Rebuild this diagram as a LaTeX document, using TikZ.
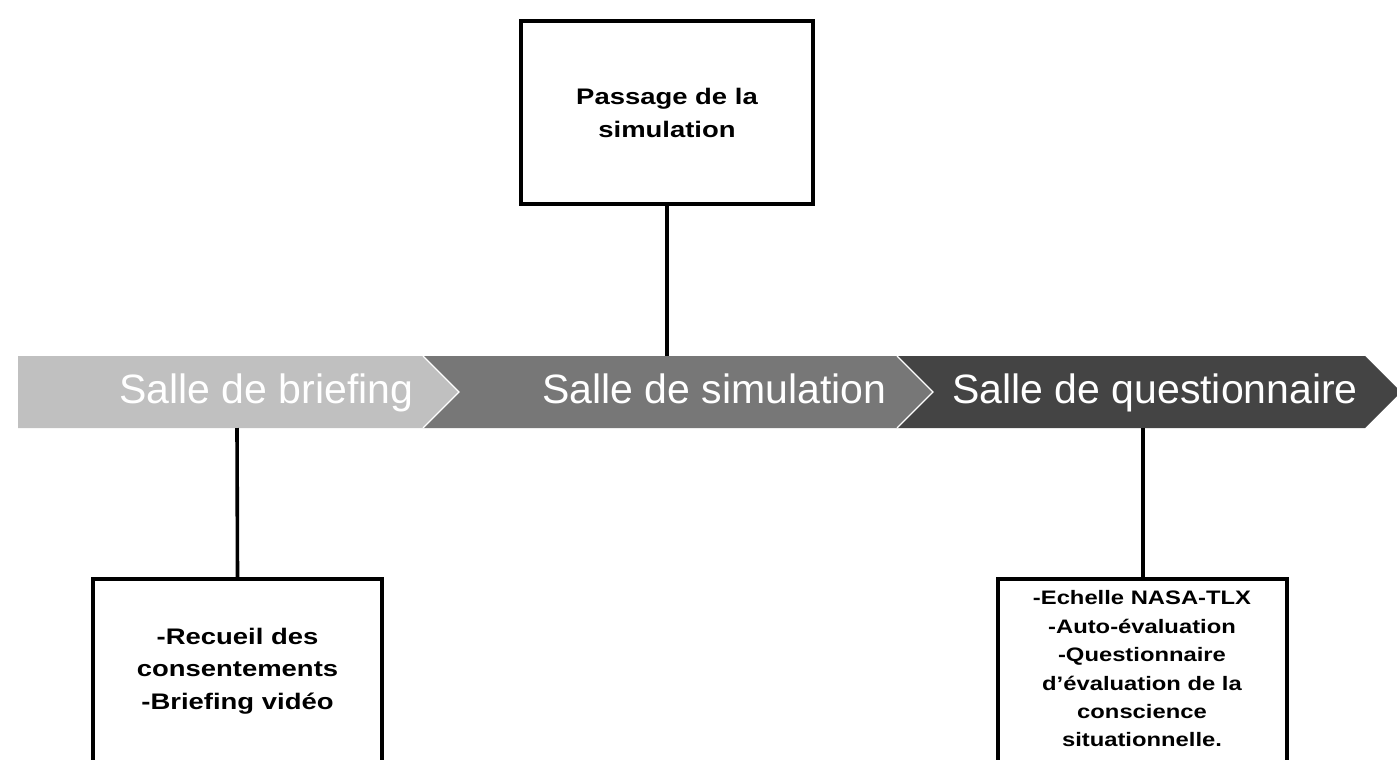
\documentclass[tikz,border=0pt]{standalone}
\usepackage{fontspec}
\setmainfont{Liberation Sans}
\newfontfamily\boxfont{Liberation Sans}[FakeStretch=1.22]
\definecolor{chA}{HTML}{C0C0C0}
\definecolor{chB}{HTML}{777777}
\definecolor{chC}{HTML}{444444}
\tikzset{
  box/.style={draw=black, line width=3.8pt, fill=white, inner sep=0pt},
  link/.style={draw=black, line width=3.6pt},
  bandtext/.style={text=white, font=\fontsize{41}{41}\selectfont, anchor=base, inner sep=0pt},
  boxtextA/.style={font=\boxfont\bfseries\fontsize{22.5}{32.5}\selectfont, align=center, inner sep=0pt},
  boxtextB/.style={font=\boxfont\bfseries\fontsize{19.5}{28.4}\selectfont, align=center, inner sep=0pt},
  sep/.style={draw=white, line width=1.2pt}
}
\begin{document}
\begin{tikzpicture}[x=1pt, y=-1pt]
\useasboundingbox (0,0) rectangle (1397,760);
\clip (0,0) rectangle (1397,760);
\fill[white] (0,0) rectangle (1397,760);
% chevrons
\fill[chA] (18,356) -- (423,356) -- (459,392) -- (423,428) -- (18,428) -- cycle;
\fill[chB] (423,356) -- (897,356) -- (933,392) -- (897,428) -- (423,428) -- (459,392) -- cycle;
\fill[chC] (897,356) -- (1365,356) -- (1401,392) -- (1365,428) -- (897,428) -- (933,392) -- cycle;
\draw[sep] (423,356) -- (459,392) -- (423,428);
\draw[sep] (897,356) -- (933,392) -- (897,428);
\coordinate (c1b) at (237,428);
\coordinate (c2t) at (667,356);
\coordinate (c3b) at (1143,428);
\node[bandtext] (t1) at (266.5,403) {Salle de briefing};
\node[bandtext] (t2) at (714.5,403) {Salle de simulation};
\node[bandtext] (t3) at (1155,403) {Salle de questionnaire};
% boxes
\node[box, minimum width=292, minimum height=183, anchor=north] (top) at (667,19) {};
\node[boxtextA] (toptext) at (667,113) {Passage de la\\simulation};
\node[box, minimum width=289, minimum height=220, anchor=north] (left) at (237.5,577) {};
\node[boxtextA] (lefttext) at (237.5,671) {-Recueil des\\consentements\\-Briefing vidéo};
\node[box, minimum width=289, minimum height=220, anchor=north] (right) at (1142.5,577) {};
\node[boxtextB] (righttext) at (1142,669) {-Echelle NASA-TLX\\-Auto-évaluation\\-Questionnaire\\d’évaluation de la\\conscience\\situationnelle.};
% connectors
\draw[link] (top.south) -- (c2t);
\draw[link] (c1b) -- (left.north);
\draw[link] (c3b) -- (c3b |- right.north);
\end{tikzpicture}
\end{document}
